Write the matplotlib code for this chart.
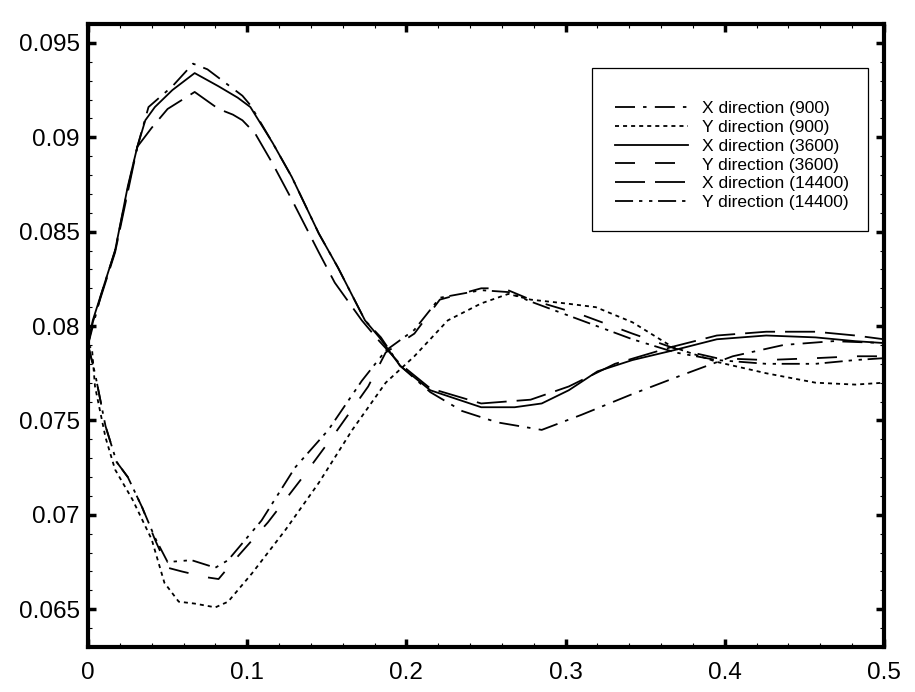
import matplotlib
matplotlib.use('Agg')
import matplotlib.pyplot as plt
from matplotlib.patches import Rectangle
from matplotlib.ticker import MultipleLocator

plt.rcParams['font.family'] = ['Liberation Sans', 'DejaVu Sans']
plt.rcParams['lines.scale_dashes'] = False

# X direction (900)
x_x900 = [0, 0.008, 0.017, 0.025, 0.031, 0.038, 0.053, 0.066, 0.075, 0.097, 0.102, 0.116, 0.128,
          0.145, 0.157, 0.174, 0.184, 0.196, 0.215, 0.235, 0.257, 0.285, 0.31, 0.342, 0.373, 0.405,
          0.437, 0.468, 0.5]
y_x900 = [0.0790, 0.0816, 0.0840, 0.0873, 0.0895, 0.0916, 0.0927, 0.0939, 0.0936, 0.0922, 0.0917,
          0.0897, 0.0879, 0.0849, 0.0831, 0.0803, 0.0794, 0.0779, 0.0765, 0.0755, 0.0749, 0.0745,
          0.0753, 0.0764, 0.0774, 0.0784, 0.0790, 0.0792, 0.0791]

# Y direction (900)
x_y900 = [0, 0.0025, 0.0044, 0.011, 0.017, 0.028, 0.040, 0.048, 0.057, 0.067, 0.080, 0.088, 0.103,
          0.124, 0.145, 0.166, 0.187, 0.205, 0.226, 0.247, 0.264, 0.278, 0.300, 0.319, 0.342, 0.367,
          0.395, 0.426, 0.457, 0.482, 0.5]
y_y900 = [0.0790, 0.0788, 0.0768, 0.0741, 0.0724, 0.0708, 0.0687, 0.0664, 0.0654, 0.0653, 0.0651,
          0.0654, 0.0669, 0.0692, 0.0717, 0.0745, 0.0770, 0.0784, 0.0803, 0.0812, 0.0817, 0.0814,
          0.0812, 0.0810, 0.0802, 0.0789, 0.0781, 0.0775, 0.0770, 0.0769, 0.0770]

# X direction (3600)
x_x3600 = [0, 0.003, 0.017, 0.025, 0.031, 0.036, 0.042, 0.053, 0.067, 0.082, 0.094, 0.102, 0.116,
           0.128, 0.145, 0.157, 0.174, 0.183, 0.196, 0.215, 0.247, 0.268, 0.285, 0.302, 0.32, 0.342,
           0.367, 0.395, 0.426, 0.457, 0.482, 0.5]
y_x3600 = [0.0790, 0.0803, 0.0840, 0.0874, 0.0895, 0.0909, 0.0916, 0.0925, 0.0934, 0.0927, 0.0921,
           0.0916, 0.0897, 0.0879, 0.0849, 0.0831, 0.0803, 0.0794, 0.0779, 0.0766, 0.0757, 0.0757,
           0.0759, 0.0766, 0.0776, 0.0782, 0.0787, 0.0793, 0.0795, 0.0794, 0.0792, 0.0791]

# Y direction (3600)
x_y3600 = [0, 0.0044, 0.011, 0.018, 0.025, 0.034, 0.042, 0.050, 0.059, 0.074, 0.082, 0.092, 0.113,
           0.134, 0.155, 0.176, 0.187, 0.205, 0.221, 0.247, 0.261, 0.278, 0.310, 0.342, 0.369, 0.395,
           0.426, 0.457, 0.482, 0.5]
y_y3600 = [0.0790, 0.0775, 0.0747, 0.0728, 0.0720, 0.0704, 0.0687, 0.0672, 0.0670, 0.0667, 0.0666,
           0.0676, 0.0696, 0.0719, 0.0743, 0.0768, 0.0786, 0.0796, 0.0814, 0.0820, 0.0820, 0.0814,
           0.0806, 0.0796, 0.0788, 0.0783, 0.0782, 0.0783, 0.0784, 0.0784]

# X direction (14400)
x_x14400 = [0, 0.003, 0.017, 0.025, 0.031, 0.040, 0.050, 0.067, 0.082, 0.091, 0.097, 0.105, 0.116,
            0.128, 0.145, 0.155, 0.172, 0.183, 0.196, 0.215, 0.247, 0.278, 0.302, 0.331, 0.367,
            0.395, 0.426, 0.457, 0.482, 0.5]
y_x14400 = [0.0790, 0.0802, 0.0839, 0.0871, 0.0895, 0.0905, 0.0915, 0.0924, 0.0915, 0.0912, 0.0909,
            0.0902, 0.0886, 0.0867, 0.0839, 0.0823, 0.0803, 0.0792, 0.0780, 0.0767, 0.0759, 0.0761,
            0.0768, 0.0780, 0.0789, 0.0795, 0.0797, 0.0797, 0.0795, 0.0793]

# Y direction (14400)
x_y14400 = [0, 0.0044, 0.011, 0.018, 0.025, 0.034, 0.042, 0.050, 0.065, 0.080, 0.088, 0.109, 0.130,
            0.151, 0.172, 0.187, 0.205, 0.221, 0.247, 0.264, 0.278, 0.310, 0.342, 0.369, 0.395,
            0.426, 0.457, 0.482, 0.5]
y_y14400 = [0.0790, 0.0775, 0.0747, 0.0728, 0.0720, 0.0704, 0.0688, 0.0675, 0.0676, 0.0672, 0.0676,
            0.0697, 0.0725, 0.0745, 0.0771, 0.0787, 0.0798, 0.0815, 0.0819, 0.0818, 0.0813, 0.0803,
            0.0793, 0.0786, 0.0782, 0.0780, 0.0780, 0.0782, 0.0783]

series = [
    (x_x900, y_x900, 'X direction (900)', [14.4, 5.8, 2.5, 6.0]),
    (x_y900, y_y900, 'Y direction (900)', [2.9, 2.9]),
    (x_x3600, y_x3600, 'X direction (3600)', None),
    (x_y3600, y_y3600, 'Y direction (3600)', [14.4, 14.4]),
    (x_x14400, y_x14400, 'X direction (14400)', [21.6, 7.2]),
    (x_y14400, y_y14400, 'Y direction (14400)', [13.0, 4.3, 2.4, 4.8, 2.4, 4.1]),
]

fig = plt.figure(figsize=(9.15, 6.92), dpi=100)
ax = fig.add_axes([88 / 915, 1 - 647 / 692, 796 / 915, 623 / 692])

for xs, ys, label, dash in series:
    if dash is None:
        ax.plot(xs, ys, color='black', lw=1.3, label=label)
    else:
        ax.plot(xs, ys, color='black', lw=1.3, dashes=dash, label=label)

ax.set_xlim(0, 0.5)
ax.set_ylim(0.063, 0.096)
ax.xaxis.set_minor_locator(MultipleLocator(0.02))
ax.yaxis.set_minor_locator(MultipleLocator(0.001))
ax.set_xticks([0, 0.1, 0.2, 0.3, 0.4, 0.5])
ax.set_xticklabels(['0', '0.1', '0.2', '0.3', '0.4', '0.5'])
ax.set_yticks([0.065, 0.07, 0.075, 0.08, 0.085, 0.09, 0.095])
ax.set_yticklabels(['0.065', '0.07', '0.075', '0.08', '0.085', '0.09', '0.095'])

ax.tick_params(which='both', direction='in', top=True, right=True, colors='black')
ax.tick_params(which='major', length=6, width=2.5, labelsize=17.5)
ax.tick_params(which='minor', length=3, width=0.8)
ax.tick_params(axis='x', which='major', pad=11)
ax.tick_params(axis='y', which='major', pad=6)
for sp in ax.spines.values():
    sp.set_linewidth(3)

fig.patches.append(Rectangle((592 / 915, 1 - 231 / 692), 276 / 915, 163 / 692,
                             transform=fig.transFigure, fill=False, edgecolor='black', lw=0.9))

fig.legend(loc='upper left', bbox_to_anchor=(615 / 915, 1 - 101 / 692), frameon=False,
           fontsize=12.5, handlelength=4.2, handletextpad=0.8, labelspacing=0.21,
           borderpad=0, borderaxespad=0)

fig.savefig('out.png', dpi=100)
